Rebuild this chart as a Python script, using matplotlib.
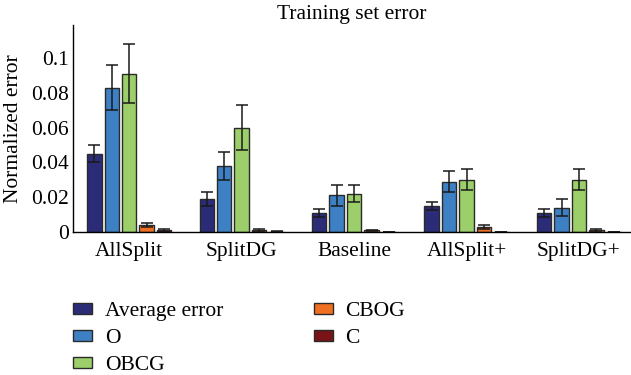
import numpy as np
import matplotlib
matplotlib.use("Agg")
import matplotlib.pyplot as plt

plt.rcParams['font.family'] = ['Liberation Serif', 'DejaVu Serif']

groups = ['AllSplit', 'SplitDG', 'Baseline', 'AllSplit+', 'SplitDG+']
series = ['Average error', 'O', 'OBCG', 'CBOG', 'C']
colors = ['#2b2c78', '#3d80c4', '#9ccf6a', '#f07022', '#7a1315']

avg_err = [0.045, 0.019, 0.011, 0.015, 0.011]
o_err = [0.083, 0.038, 0.021, 0.029, 0.014]
obcg_err = [0.091, 0.060, 0.022, 0.030, 0.030]
cbog_err = [0.004, 0.001, 0.001, 0.003, 0.001]
c_err = [0.001, 0.0002, 0.0001, 0.0001, 0.0001]

avg_sd = [0.005, 0.004, 0.0023, 0.0021, 0.0021]
o_sd = [0.013, 0.008, 0.006, 0.006, 0.005]
obcg_sd = [0.017, 0.013, 0.005, 0.006, 0.006]
cbog_sd = [0.001, 0.0008, 0.0003, 0.001, 0.001]
c_sd = [0.0008, 0.0002, 0.0001, 0.0001, 0.0001]

values = [avg_err, o_err, obcg_err, cbog_err, c_err]
errors = [avg_sd, o_sd, obcg_sd, cbog_sd, c_sd]

fs = 15.5

fig = plt.figure(figsize=(6.31, 3.75), dpi=100)
ax = fig.add_axes([0.1157, 0.3813, 0.882, 0.552])

x = np.arange(len(groups))
step = 0.155
width = 0.128
for i in range(len(series)):
    ax.bar(x + (i - 2) * step, values[i], width, yerr=errors[i],
           color=colors[i], edgecolor='#2a2a2a', linewidth=1.0,
           label=series[i], capsize=4.5,
           error_kw=dict(ecolor='#1a1a1a', elinewidth=1.1, capthick=1.1))

ax.set_xlim(-0.5, 4.45)
ax.set_ylim(0, 0.119)
ax.set_yticks([0, 0.02, 0.04, 0.06, 0.08, 0.1])
ax.set_yticklabels(['0', '0.02', '0.04', '0.06', '0.08', '0.1'])
ax.set_xticks(x)
ax.set_xticklabels(groups)
ax.tick_params(axis='both', length=0, labelsize=fs)
ax.tick_params(axis='x', pad=7)
ax.tick_params(axis='y', pad=3)
for s in ['top', 'right']:
    ax.spines[s].set_visible(False)
ax.spines['left'].set_linewidth(1.0)
ax.spines['bottom'].set_linewidth(1.0)

ax.set_ylabel('Normalized error', fontsize=fs, labelpad=6)
ax.set_title('Training set error', fontsize=fs, pad=4)

fig.legend(loc='upper left', bbox_to_anchor=(0.1157, 0.194), ncol=2,
           frameon=False, fontsize=fs, handlelength=0.88, handleheight=0.45,
           handletextpad=0.6, labelspacing=0.37, columnspacing=4.2,
           borderaxespad=0, borderpad=0)

fig.savefig('out.png', dpi=100)
